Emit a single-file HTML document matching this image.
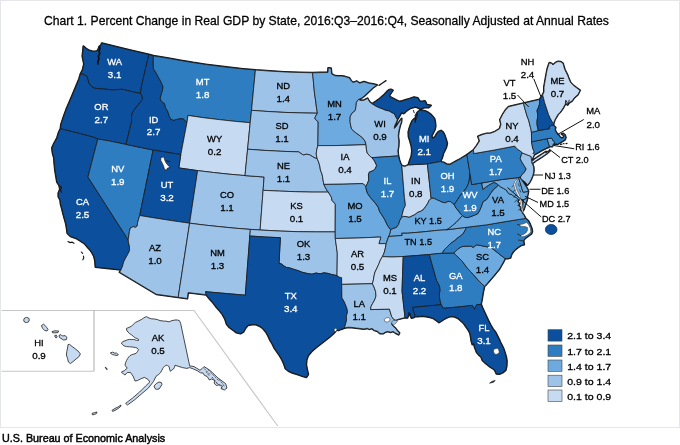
<!DOCTYPE html>
<html lang="en"><head><meta charset="utf-8"><title>Chart 1. Percent Change in Real GDP by State</title>
<style>html,body{margin:0;padding:0;background:#fff}body{width:680px;height:445px;overflow:hidden;position:relative;font-family:"Liberation Sans",sans-serif}#frame{position:absolute;left:0;top:0;width:680px;height:428px;border:1.7px solid #e4e6e9;box-sizing:border-box}svg{position:absolute;left:0;top:0}svg text{font-family:"Liberation Sans",sans-serif;stroke-width:.3px;paint-order:stroke}.st{stroke:#1e1e1e;stroke-width:.8;stroke-linejoin:round}#title{position:absolute;left:44.2px;top:12.4px;font-size:13.2px;color:#000;white-space:nowrap;line-height:18px;transform-origin:0 0;transform:scaleX(.921);-webkit-text-stroke:.3px #000}#src{position:absolute;left:1.8px;top:429.6px;font-size:11px;color:#000;white-space:nowrap;line-height:16px;transform-origin:0 0;transform:scaleX(.978);-webkit-text-stroke:.45px #000}</style></head><body>
<div id="frame"></div>
<div id="title">Chart 1. Percent Change in Real GDP by State, 2016:Q3–2016:Q4, Seasonally Adjusted at Annual Rates</div>
<svg width="680" height="445" viewBox="0 0 680 445">
<path d="M1.5,310.45 H194 L277.7,426 M1.5,371.2 H94" fill="none" stroke="#c6c6c6" stroke-width="1.1"/><path d="M94,310.45 V371.2" fill="none" stroke="#b4b4b4" stroke-width="1.1"/>
<path d="M101.8,43.2 117.0,47.0 132.5,50.7 148.8,54.5 141.2,87.5 140.6,93.4 130.0,91.2 122.0,89.2 118.0,89.6 112.0,90.0 106.0,89.2 100.0,88.8 94.5,88.2 91.5,86.5 89.0,83.5 88.0,80.0 87.0,76.5 84.0,74.5 80.5,74.0 82.6,70.0 84.0,64.0 83.2,60.0 82.4,56.0 83.0,51.0 83.4,46.3 86.0,48.6 88.5,50.2 92.0,51.3 95.0,51.6 97.6,50.6 98.6,48.4 99.6,46.2 100.8,45.6Z M80.5,74.0 84.0,74.5 87.0,76.5 88.0,80.0 89.0,83.5 91.5,86.5 94.5,88.2 100.0,88.8 106.0,89.2 112.0,90.0 118.0,89.6 122.0,89.2 130.0,91.2 140.6,93.4 142.2,96.5 142.4,99.5 140.0,102.5 137.0,106.2 134.0,110.0 132.2,113.0 131.6,117.0 131.6,121.3 126.0,144.4 109.6,141.0 97.8,139.0 93.2,137.1 77.0,132.8 60.5,128.7 61.0,124.5 62.5,120.0 64.0,115.5 66.0,110.0 69.0,103.0 72.0,96.0 74.5,90.0 77.0,84.0 79.0,79.0Z M60.5,128.7 77.0,132.8 93.2,137.1 97.8,139.0 87.9,177.0 128.2,239.8 128.6,243.0 129.4,246.0 129.6,250.5 127.6,254.5 125.4,258.4 123.6,262.0 122.6,266.0 121.0,269.8 95.5,267.0 95.0,260.5 94.0,256.4 92.2,253.0 90.2,250.0 87.5,247.0 85.0,244.0 80.5,241.0 76.0,238.2 70.5,236.4 67.4,233.4 66.8,229.0 66.0,224.0 64.6,219.0 63.2,214.0 62.0,209.0 60.6,204.0 60.2,200.0 58.4,196.5 58.4,193.0 60.0,189.0 59.2,185.5 57.0,182.0 56.0,176.0 55.0,170.0 54.4,164.0 54.0,158.0 52.6,153.0 52.0,148.0 54.0,143.5 57.0,138.0 58.5,133.0Z M97.8,139.0 109.6,141.0 126.0,144.4 153.1,150.0 139.7,215.5 137.6,222.5 137.2,226.0 135.4,227.4 133.2,226.6 130.4,228.0 129.4,231.5 128.8,236.0 128.2,239.8 87.9,177.0Z M148.8,54.5 153.3,55.8 153.2,62.0 153.4,68.6 155.5,72.0 158.0,76.5 160.5,81.0 163.0,86.5 162.6,90.0 161.4,94.0 160.2,98.5 161.5,101.5 164.5,103.5 165.5,107.5 167.8,111.5 169.0,115.5 170.8,119.2 173.5,120.2 176.5,119.4 180.0,118.6 183.5,118.8 185.0,121.0 187.0,122.2 180.8,154.6 153.1,150.0 126.0,144.4 131.6,121.3 131.6,117.0 132.2,113.0 134.0,110.0 137.0,106.2 140.0,102.5 142.4,99.5 142.2,96.5 140.6,93.4 141.2,87.5Z M153.3,55.8 168.4,58.3 180.7,60.5 193.1,62.6 205.5,64.4 217.9,66.1 230.4,67.6 242.9,68.9 255.4,70.0 251.5,110.3 250.2,122.7 234.6,121.3 219.1,119.6 203.5,117.7 188.0,115.4 187.0,122.2 185.0,121.0 183.5,118.8 180.0,118.6 176.5,119.4 173.5,120.2 170.8,119.2 169.0,115.5 167.8,111.5 165.5,107.5 164.5,103.5 161.5,101.5 160.2,98.5 161.4,94.0 162.6,90.0 163.0,86.5 160.5,81.0 158.0,76.5 155.5,72.0 153.4,68.6 153.2,62.0Z M188.0,115.4 203.5,117.7 219.1,119.6 234.6,121.3 250.2,122.7 247.6,149.2 245.0,175.6 229.2,174.2 213.4,172.5 197.6,170.6 178.8,167.9 180.8,154.6 187.0,122.2Z M153.1,150.0 180.8,154.6 178.8,167.9 197.6,170.6 189.6,223.2 172.9,220.8 156.2,218.2 139.7,215.5Z M139.7,215.5 156.2,218.2 172.9,220.8 189.6,223.2 178.2,297.3 156.3,294.2 119.6,272.2 121.0,269.8 122.6,266.0 123.6,262.0 125.4,258.4 127.6,254.5 129.6,250.5 129.4,246.0 128.6,243.0 128.2,239.8 128.8,236.0 129.4,231.5 130.4,228.0 133.2,226.6 135.4,227.4 137.2,226.0 137.6,222.5Z M197.6,170.6 213.4,172.5 229.2,174.2 245.0,175.6 264.1,177.0 263.1,190.3 260.1,230.0 250.4,229.4 235.2,228.2 219.9,226.7 204.7,225.1 189.6,223.2Z M189.6,223.2 204.7,225.1 219.9,226.7 235.2,228.2 250.4,229.4 249.8,236.0 245.3,295.2 205.6,291.7 206.2,294.7 188.1,292.6 187.3,298.5 178.2,297.3Z M255.4,70.0 269.6,71.1 283.9,71.9 298.2,72.4 312.5,72.8 313.2,79.0 313.9,87.0 314.6,94.0 315.7,101.0 316.4,107.0 317.4,113.2 300.9,112.9 284.5,112.4 268.0,111.5 251.5,110.3Z M251.5,110.3 268.0,111.5 284.5,112.4 300.9,112.9 317.4,113.2 315.8,115.8 314.8,118.2 316.4,120.4 318.2,121.8 317.9,145.6 316.8,149.5 316.2,154.0 317.2,158.8 315.0,158.0 312.5,156.6 309.5,154.8 306.5,154.2 303.5,155.0 301.0,153.6 298.9,151.9 281.8,151.3 264.7,150.4 247.6,149.2 250.2,122.7Z M247.6,149.2 264.7,150.4 281.8,151.3 298.9,151.9 301.0,153.6 303.5,155.0 306.5,154.2 309.5,154.8 312.5,156.6 315.0,158.0 317.2,158.8 318.6,162.0 319.8,166.0 320.4,170.0 322.0,174.0 322.6,177.0 323.2,181.0 323.9,184.4 325.4,187.6 326.8,190.2 328.3,192.1 312.0,192.1 295.7,191.7 279.4,191.1 263.1,190.3 264.1,177.0 245.0,175.6Z M263.1,190.3 279.4,191.1 295.7,191.7 312.0,192.1 328.3,192.1 329.8,194.6 331.4,197.2 332.0,200.4 333.8,202.4 335.3,204.2 335.2,231.9 316.4,231.9 297.6,231.7 278.9,231.0 260.1,230.0Z M250.4,229.4 260.1,230.0 278.9,231.0 297.6,231.7 316.4,231.9 335.2,231.9 335.3,238.5 337.3,253.1 337.0,275.6 332.0,274.6 328.0,273.4 324.0,272.8 320.0,273.8 316.0,273.0 312.0,274.2 307.0,273.4 302.0,272.2 298.0,270.6 294.0,269.4 290.0,268.0 286.4,267.4 284.0,266.0 281.6,264.0 279.0,263.4 280.4,237.7 265.1,237.0 249.8,236.0Z M249.8,236.0 265.1,237.0 280.4,237.7 279.0,263.4 281.6,264.0 284.0,266.0 286.4,267.4 290.0,268.0 294.0,269.4 298.0,270.6 302.0,272.2 307.0,273.4 312.0,274.2 316.0,273.0 320.0,273.8 324.0,272.8 328.0,273.4 332.0,274.6 337.0,275.6 339.5,277.2 341.6,277.6 341.7,284.4 341.9,297.8 344.4,302.0 346.8,308.0 347.6,312.0 346.4,316.0 346.6,320.0 345.6,324.0 344.4,328.0 341.0,329.2 338.5,330.4 336.4,329.8 335.4,331.6 333.0,334.0 329.0,337.5 324.5,341.0 320.0,344.5 315.5,348.0 311.5,351.5 308.2,355.5 306.6,360.0 306.2,365.0 307.2,370.0 308.2,374.5 306.4,377.2 303.0,376.4 298.0,374.6 293.0,373.0 288.5,371.0 285.4,368.5 284.0,364.0 282.2,360.0 280.0,356.2 277.4,352.5 274.6,348.5 272.4,344.0 270.0,340.0 268.2,336.0 266.0,332.0 263.0,328.5 259.5,326.0 256.0,324.6 252.0,324.4 248.0,325.2 245.6,328.0 243.5,331.8 240.4,333.6 236.5,332.6 233.0,330.0 229.5,327.5 226.6,324.0 225.0,319.0 222.5,314.5 219.0,310.0 215.5,306.0 212.0,301.5 208.5,297.5 206.2,294.7 205.6,291.7 245.3,295.2Z M312.5,72.8 320.0,72.6 328.0,72.4 328.2,68.0 331.0,68.2 331.6,74.0 335.0,75.8 338.0,76.0 341.5,76.0 345.0,76.6 349.4,78.0 351.0,80.6 353.0,82.6 356.8,81.2 359.7,83.2 364.0,81.8 368.5,83.2 373.0,84.0 377.0,84.9 373.0,87.8 368.5,92.0 364.0,96.3 361.0,98.4 358.6,99.4 356.4,102.4 356.0,106.5 355.2,110.6 352.0,113.2 350.2,116.5 350.0,121.5 350.8,126.0 351.6,129.0 355.0,132.2 359.0,135.0 362.5,137.8 365.0,141.0 366.0,144.7 350.0,145.2 334.0,145.6 317.9,145.6 318.2,121.8 316.4,120.4 314.8,118.2 315.8,115.8 317.4,113.2 316.4,107.0 315.7,101.0 314.6,94.0 313.9,87.0 313.2,79.0Z M317.9,145.6 334.0,145.6 350.0,145.2 366.0,144.7 366.4,149.0 367.2,153.0 369.6,155.8 371.9,157.7 374.6,161.0 376.6,165.5 375.4,168.5 373.0,170.8 369.4,172.0 368.4,175.0 368.8,180.0 367.4,183.5 365.8,186.4 364.4,185.0 362.7,183.6 343.3,184.2 323.9,184.4 323.2,181.0 322.6,177.0 322.0,174.0 320.4,170.0 319.8,166.0 318.6,162.0 317.2,158.8 316.2,154.0 316.8,149.5Z M323.9,184.4 343.3,184.2 362.7,183.6 364.4,185.0 365.8,186.4 366.4,190.0 367.6,193.5 370.4,197.5 373.0,200.5 376.0,204.0 378.4,207.6 379.6,211.5 382.5,216.0 385.0,220.0 387.0,224.5 388.6,227.0 390.6,229.7 390.2,233.0 388.6,236.6 387.4,240.0 386.2,243.6 378.9,243.7 380.8,237.0 358.1,238.0 335.3,238.5 335.2,231.9 335.3,204.2 333.8,202.4 332.0,200.4 331.4,197.2 329.8,194.6 328.3,192.1 326.8,190.2 325.4,187.6Z M335.3,238.5 358.1,238.0 380.8,237.0 378.9,243.7 386.2,243.6 385.4,248.0 384.4,252.0 383.4,254.6 382.4,256.6 380.4,260.0 379.0,263.6 377.0,268.0 375.0,272.0 374.0,276.0 373.4,280.0 372.4,283.7 341.7,284.4 341.6,277.6 339.5,277.2 337.0,275.6 337.3,253.1Z M341.7,284.4 372.4,283.7 374.0,287.0 375.6,291.5 376.0,296.0 374.6,300.0 372.6,303.5 371.0,306.5 370.6,309.6 389.4,309.1 390.6,313.0 391.6,316.5 393.6,319.2 395.6,320.2 393.0,322.2 391.4,324.0 393.0,326.2 395.2,328.0 397.0,330.4 399.4,333.0 398.6,334.6 395.5,333.0 393.0,331.4 390.5,332.2 388.0,331.4 385.5,332.0 383.0,333.6 380.0,333.4 377.5,331.2 374.5,330.4 372.0,328.4 369.4,329.2 367.0,328.2 364.0,329.0 360.0,328.4 356.0,328.0 352.0,327.4 348.0,327.2 344.4,328.0 345.6,324.0 346.6,320.0 346.4,316.0 347.6,312.0 346.8,308.0 344.4,302.0 341.9,297.8Z M358.6,99.4 360.5,100.4 363.5,100.4 366.0,99.2 367.6,98.4 368.6,100.2 370.0,102.4 372.2,103.8 375.5,105.8 378.8,107.4 382.5,108.8 386.2,110.4 389.0,110.8 392.0,112.6 394.6,113.8 395.4,116.0 397.4,119.6 396.2,122.6 394.6,126.0 394.2,128.4 396.2,126.6 398.6,122.8 401.6,118.6 401.4,122.0 400.0,126.0 398.8,131.0 398.2,136.0 398.8,141.0 398.6,146.0 397.8,151.0 398.4,155.9 371.9,157.7 369.6,155.8 367.2,153.0 366.4,149.0 366.0,144.7 365.0,141.0 362.5,137.8 359.0,135.0 355.0,132.2 351.6,129.0 350.8,126.0 350.0,121.5 350.2,116.5 352.0,113.2 355.2,110.6 356.0,106.5 356.4,102.4Z M371.9,157.7 398.4,155.9 399.4,160.0 400.8,164.0 401.8,165.5 404.4,197.4 405.0,201.5 405.4,205.5 403.6,209.0 402.6,213.0 401.4,217.6 399.6,221.0 398.6,224.5 396.4,227.4 393.6,228.4 390.6,229.7 388.6,227.0 387.0,224.5 385.0,220.0 382.5,216.0 379.6,211.5 378.4,207.6 376.0,204.0 373.0,200.5 370.4,197.5 367.6,193.5 366.4,190.0 365.8,186.4 367.4,183.5 368.8,180.0 368.4,175.0 369.4,172.0 373.0,170.8 375.4,168.5 376.6,165.5 374.6,161.0Z M401.8,165.5 404.5,166.6 408.4,164.9 427.4,163.9 431.1,198.4 429.0,200.6 427.6,203.6 425.6,206.6 423.0,210.0 420.4,211.4 417.6,212.4 415.0,214.6 412.0,216.0 409.0,217.4 406.0,216.6 403.5,216.4 401.4,217.6 402.6,213.0 403.6,209.0 405.4,205.5 405.0,201.5 404.4,197.4Z M372.2,103.8 375.6,101.6 378.8,99.4 381.8,96.8 384.7,94.2 387.0,91.6 389.2,89.8 391.4,89.6 392.8,90.4 391.0,93.0 389.2,95.8 391.0,97.4 393.5,98.6 396.4,100.2 399.4,101.6 402.4,101.0 405.3,100.0 409.7,98.6 414.0,97.2 417.8,98.0 419.0,100.0 420.0,101.6 422.6,101.4 425.0,101.0 426.0,103.0 426.8,104.8 431.0,105.4 429.0,107.4 424.4,107.6 422.0,108.4 420.0,109.0 417.6,107.6 415.6,106.8 413.0,107.6 411.0,108.0 408.6,109.4 406.8,110.6 405.0,112.4 403.6,113.4 401.6,112.6 400.4,114.4 399.4,116.2 397.4,119.6 395.4,116.0 394.6,113.8 392.0,112.6 389.0,110.8 386.2,110.4 382.5,108.8 378.8,107.4 375.5,105.8Z M408.4,164.9 409.6,161.0 411.4,156.0 412.0,151.0 411.4,146.0 410.0,141.0 408.6,136.6 408.4,132.0 409.4,128.0 410.8,124.0 412.4,120.6 414.6,118.4 415.4,121.6 416.4,118.0 416.2,114.6 417.8,112.0 420.2,110.2 422.6,110.6 425.0,111.0 428.0,112.4 430.6,114.2 432.6,116.4 434.4,118.6 435.2,122.0 435.6,126.0 435.0,129.4 433.4,132.6 431.6,136.0 432.4,138.4 434.8,137.2 436.6,134.0 438.6,131.6 441.0,130.6 443.0,132.0 444.6,135.0 446.0,139.0 447.2,143.4 446.4,147.0 445.0,150.0 443.4,153.2 442.4,157.0 440.4,161.6 427.4,163.9Z M427.4,163.9 440.4,161.6 443.5,162.4 446.5,164.2 450.0,164.6 453.5,162.6 457.0,160.6 460.5,158.8 464.0,156.6 466.9,154.9 469.8,172.5 469.6,175.6 469.4,179.0 468.8,182.6 467.4,186.0 465.6,189.0 463.4,191.6 461.4,194.0 459.4,196.6 457.6,199.6 456.0,202.0 454.2,204.6 452.6,203.4 450.4,201.6 448.0,201.4 445.6,202.8 442.6,202.4 439.6,201.0 436.5,199.6 433.6,198.2 431.1,198.4Z M401.4,217.6 399.6,221.0 398.6,224.5 396.4,227.4 393.6,228.4 390.6,229.7 390.2,233.0 388.6,236.6 388.5,236.5 402.2,235.5 401.8,233.2 407.7,233.2 422.9,231.9 438.1,230.3 446.5,229.8 449.6,228.0 452.6,225.4 456.0,222.6 459.0,219.5 462.4,215.6 460.4,213.6 458.6,211.0 456.0,208.0 454.2,204.6 452.6,203.4 450.4,201.6 448.0,201.4 445.6,202.8 442.6,202.4 439.6,201.0 436.5,199.6 433.6,198.2 431.1,198.4 429.0,200.6 427.6,203.6 425.6,206.6 423.0,210.0 420.4,211.4 417.6,212.4 415.0,214.6 412.0,216.0 409.0,217.4 406.0,216.6 403.5,216.4Z M388.6,236.6 388.5,236.5 402.2,235.5 401.8,233.2 407.7,233.2 422.9,231.9 438.1,230.3 446.5,229.8 466.6,227.3 465.0,230.4 463.3,233.6 460.5,236.0 457.6,238.0 455.0,240.4 452.4,242.2 450.0,244.0 447.6,246.4 445.2,248.8 443.4,251.0 442.6,253.2 429.3,254.5 416.0,255.6 403.2,256.5 392.0,257.0 382.4,256.6 383.4,254.6 384.4,252.0 385.4,248.0 386.2,243.6 387.4,240.0Z M382.4,256.6 392.0,257.0 403.2,256.5 402.0,291.1 405.0,317.6 401.0,318.6 398.0,319.4 395.6,320.2 393.6,319.2 391.6,316.5 390.6,313.0 389.4,309.1 370.6,309.6 371.0,306.5 372.6,303.5 374.6,300.0 376.0,296.0 375.6,291.5 374.0,287.0 372.4,283.7 373.4,280.0 374.0,276.0 375.0,272.0 377.0,268.0 379.0,263.6 380.4,260.0Z M403.2,256.5 416.0,255.6 429.3,254.5 436.6,280.5 438.4,283.5 439.5,286.0 440.2,290.0 439.4,294.0 439.6,298.0 440.4,301.6 441.2,304.7 412.8,307.4 413.4,311.0 414.6,313.6 415.2,316.4 413.4,317.6 411.6,318.0 410.6,316.0 410.0,313.0 408.6,312.6 408.4,315.4 407.4,317.8 405.0,317.6 402.0,291.1Z M429.3,254.5 442.6,253.2 453.8,253.0 456.4,255.6 459.6,258.6 462.4,261.4 465.0,265.0 467.6,268.4 470.4,271.4 473.4,274.6 476.4,278.0 479.0,281.0 481.6,283.6 484.4,286.2 483.6,290.0 482.8,294.0 482.2,298.0 481.6,301.4 481.0,304.2 479.0,304.6 477.0,304.4 475.6,306.4 474.6,309.2 473.4,307.4 472.4,305.4 458.0,307.0 443.2,308.3 441.2,304.7 440.4,301.6 439.6,298.0 439.4,294.0 440.2,290.0 439.5,286.0 438.4,283.5 436.6,280.5Z M412.8,307.4 441.2,304.7 443.2,308.3 458.0,307.0 472.4,305.4 473.4,307.4 474.6,309.2 475.6,306.4 477.0,304.4 479.0,304.6 481.0,304.2 482.4,307.6 484.2,311.6 486.2,316.0 488.4,320.6 490.6,325.0 493.0,329.0 495.6,332.4 497.4,336.0 499.4,340.0 500.3,342.2 502.0,345.4 503.7,349.0 505.0,353.0 506.2,357.0 506.8,361.0 506.6,366.0 505.7,370.1 502.6,372.6 499.4,374.0 496.4,373.7 495.6,371.6 494.2,369.4 490.2,367.0 486.9,364.2 484.6,362.4 482.4,360.2 481.2,357.0 479.0,355.0 476.7,352.4 474.6,347.0 474.0,343.4 472.4,344.4 471.4,341.0 470.8,337.0 470.0,333.0 468.0,329.4 465.8,326.4 463.4,323.0 460.6,320.4 457.6,318.0 454.0,316.6 450.6,316.4 447.0,317.6 443.6,319.4 441.4,321.0 439.0,322.4 436.4,320.4 433.4,318.4 430.0,317.2 426.0,316.4 422.0,316.0 418.0,316.4 415.2,316.4 414.6,313.6 413.4,311.0Z M453.8,253.0 456.4,250.4 459.0,248.2 461.0,247.0 463.0,246.4 467.0,246.2 471.0,246.0 473.0,247.4 475.4,246.0 476.4,244.8 480.0,245.4 485.0,246.4 491.0,247.6 496.0,251.4 501.0,255.4 505.2,258.6 503.4,262.0 501.4,265.6 499.4,269.0 496.4,272.6 493.6,276.0 491.0,279.0 488.4,282.0 486.4,284.4 484.4,286.2 481.6,283.6 479.0,281.0 476.4,278.0 473.4,274.6 470.4,271.4 467.6,268.4 465.0,265.0 462.4,261.4 459.6,258.6 456.4,255.6Z M466.6,227.3 486.2,224.9 505.7,221.6 525.6,218.4 528.4,221.0 530.0,224.0 531.6,228.0 532.3,231.4 531.5,233.7 528.4,236.0 525.0,238.4 523.4,240.6 524.2,244.6 521.0,245.4 518.0,247.4 515.2,249.6 513.4,251.6 511.9,253.6 511.0,256.0 510.4,257.9 507.8,258.5 505.2,258.6 501.0,255.4 496.0,251.4 491.0,247.6 485.0,246.4 480.0,245.4 476.4,244.8 475.4,246.0 473.0,247.4 471.0,246.0 467.0,246.2 463.0,246.4 461.0,247.0 459.0,248.2 456.4,250.4 453.8,253.0 442.6,253.2 443.4,251.0 445.2,248.8 447.6,246.4 450.0,244.0 452.4,242.2 455.0,240.4 457.6,238.0 460.5,236.0 463.3,233.6 465.0,230.4Z M498.4,185.0 500.7,187.0 503.5,188.4 506.5,190.2 507.6,192.4 509.6,194.0 512.0,194.6 513.8,196.4 516.4,197.6 518.6,199.6 517.6,202.0 519.4,203.6 518.6,206.0 520.6,207.6 520.0,210.0 522.0,211.4 522.6,213.6 524.2,215.6 525.6,218.4 505.7,221.6 486.2,224.9 466.6,227.3 446.5,229.8 449.6,228.0 452.6,225.4 456.0,222.6 459.0,219.5 462.4,215.6 465.4,217.4 468.0,217.6 470.6,216.6 474.5,215.2 478.0,213.5 479.6,210.5 480.9,207.6 482.0,204.6 483.0,201.8 485.0,200.4 486.8,199.4 488.6,196.6 490.4,193.7 492.2,191.2 494.0,189.0 496.2,187.2Z M523.6,199.6 527.6,198.0 526.4,202.0 525.0,206.0 523.8,209.6 522.8,210.8 522.8,206.0 523.2,202.6Z M454.2,204.6 456.0,202.0 457.6,199.6 459.4,196.6 461.4,194.0 463.4,191.6 465.6,189.0 467.4,186.0 468.8,182.6 469.4,179.0 469.6,175.6 469.8,172.5 471.7,184.6 481.7,183.0 482.9,189.4 486.0,187.0 488.6,185.2 491.4,183.6 494.0,182.4 496.0,183.2 498.4,185.0 496.2,187.2 494.0,189.0 492.2,191.2 490.4,193.7 488.6,196.6 486.8,199.4 485.0,200.4 483.0,201.8 482.0,204.6 480.9,207.6 479.6,210.5 478.0,213.5 474.5,215.2 470.6,216.6 468.0,217.6 465.4,217.4 462.4,215.6 460.4,213.6 458.6,211.0 456.0,208.0Z M481.7,183.0 486.9,182.1 502.0,179.5 518.6,177.6 523.0,192.2 528.4,191.4 527.8,194.6 526.8,198.2 523.6,199.6 518.6,199.6 516.4,197.6 513.8,196.4 512.0,194.6 509.6,194.0 507.6,192.4 506.5,190.2 503.5,188.4 500.7,187.0 498.4,185.0 496.0,183.2 494.0,182.4 491.4,183.6 488.6,185.2 486.0,187.0 482.9,189.4Z M518.6,177.6 520.2,177.6 521.0,179.2 522.7,181.5 524.6,184.4 526.2,186.8 527.6,189.2 528.4,191.4 523.0,192.2Z M466.9,154.9 473.4,150.0 473.9,153.6 494.4,150.0 514.7,146.1 516.6,148.4 518.6,150.0 520.4,151.0 522.4,153.0 521.2,155.4 520.2,158.6 521.6,161.6 524.0,165.4 526.2,169.0 524.6,172.0 521.8,175.0 520.4,177.2 518.6,177.6 502.0,179.5 486.9,182.1 471.7,184.6 469.8,172.5Z M522.4,153.0 531.1,156.4 531.6,160.2 532.2,163.0 533.6,167.0 533.8,171.0 533.0,175.0 531.4,179.0 529.6,182.4 527.4,185.0 525.6,182.4 523.2,180.6 521.2,179.0 520.4,177.2 518.6,177.6 520.4,177.2 521.8,175.0 524.6,172.0 526.2,169.0 524.0,165.4 521.6,161.6 520.2,158.6 521.2,155.4Z M473.4,150.0 476.4,146.0 479.6,141.0 478.0,136.4 482.0,134.8 486.0,133.6 490.8,133.2 495.0,131.6 499.6,128.8 501.0,124.4 500.0,119.8 502.6,114.6 505.6,110.0 508.6,106.8 511.8,106.0 523.6,103.2 524.4,107.0 525.7,111.5 527.0,116.0 528.7,120.3 529.8,125.0 531.0,129.6 531.4,132.3 531.6,141.8 532.6,148.0 534.4,152.0 533.2,153.4 534.4,154.6 533.0,157.4 531.6,160.2 531.1,156.4 522.4,153.0 520.4,151.0 518.6,150.0 516.6,148.4 514.7,146.1 494.4,150.0 473.9,153.6Z M531.8,161.6 535.0,158.8 539.0,156.2 543.0,153.6 546.0,151.6 545.6,153.0 548.0,151.6 550.0,150.8 546.6,153.8 542.0,157.0 537.4,159.8 533.4,162.6 531.8,163.2Z M531.6,141.8 547.2,138.7 548.4,143.0 549.6,146.6 545.4,148.6 541.4,150.6 537.6,152.8 534.4,154.6 533.2,153.4 534.4,152.0 532.6,148.0Z M547.2,138.7 551.6,138.0 553.0,140.4 554.6,142.2 554.6,144.4 553.6,143.6 552.8,145.2 552.4,146.4 549.6,146.6 548.4,143.0Z M531.4,132.3 538.3,130.6 549.4,128.7 549.4,126.4 551.4,125.4 553.4,125.4 555.6,127.4 555.0,130.0 556.4,132.6 557.6,134.4 559.0,135.4 560.2,137.4 562.0,138.2 563.6,137.4 564.0,135.8 563.0,134.8 561.6,134.0 563.2,133.5 565.0,135.0 565.8,137.6 564.8,139.8 562.6,141.2 560.0,142.8 557.6,144.2 556.0,143.8 554.6,144.4 554.6,142.2 553.0,140.4 551.6,138.0 547.2,138.7 531.6,141.8Z M523.6,103.2 539.7,99.4 539.6,104.0 538.4,107.6 537.0,110.4 537.6,114.0 537.6,117.4 537.0,121.0 537.0,124.4 537.6,127.6 538.3,130.6 531.4,132.3 531.0,129.6 529.8,125.0 528.7,120.3 527.0,116.0 525.7,111.5 524.4,107.0Z M539.7,99.4 541.0,97.2 542.6,95.0 543.6,98.6 544.6,102.6 546.4,108.0 548.5,114.4 550.4,118.6 552.0,121.4 553.6,123.4 553.4,125.4 551.4,125.4 549.4,126.4 549.4,128.7 538.3,130.6 537.6,127.6 537.0,124.4 537.0,121.0 537.6,117.4 537.6,114.0 537.0,110.4 538.4,107.6 539.6,104.0Z M542.6,95.0 544.0,92.0 544.0,87.0 544.8,82.6 545.6,78.0 546.4,73.6 547.2,69.4 548.2,66.0 549.4,62.8 551.5,63.5 553.0,65.0 554.8,63.4 556.6,62.0 558.4,61.6 560.3,61.8 561.8,62.4 563.0,63.5 563.8,66.4 564.7,69.4 566.2,72.4 567.6,75.3 569.0,79.0 570.6,82.6 573.5,85.6 576.5,87.8 580.0,90.4 578.0,94.4 576.0,96.2 574.0,98.0 572.4,100.6 570.6,101.8 569.0,103.0 567.6,105.0 566.4,103.4 564.7,105.0 563.4,107.6 561.8,110.0 560.0,112.4 558.0,114.4 556.2,117.4 554.6,120.4 553.6,123.4 552.0,121.4 550.4,118.6 548.5,114.4 546.4,108.0 544.6,102.6 543.6,98.6Z" fill="#222" stroke="#161616" stroke-width="2" stroke-linejoin="round"/>
<path class="st" fill="#0C4F9C" d="M101.8,43.2 117.0,47.0 132.5,50.7 148.8,54.5 141.2,87.5 140.6,93.4 130.0,91.2 122.0,89.2 118.0,89.6 112.0,90.0 106.0,89.2 100.0,88.8 94.5,88.2 91.5,86.5 89.0,83.5 88.0,80.0 87.0,76.5 84.0,74.5 80.5,74.0 82.6,70.0 84.0,64.0 83.2,60.0 82.4,56.0 83.0,51.0 83.4,46.3 86.0,48.6 88.5,50.2 92.0,51.3 95.0,51.6 97.6,50.6 98.6,48.4 99.6,46.2 100.8,45.6Z"/>
<path class="st" fill="#0C4F9C" d="M80.5,74.0 84.0,74.5 87.0,76.5 88.0,80.0 89.0,83.5 91.5,86.5 94.5,88.2 100.0,88.8 106.0,89.2 112.0,90.0 118.0,89.6 122.0,89.2 130.0,91.2 140.6,93.4 142.2,96.5 142.4,99.5 140.0,102.5 137.0,106.2 134.0,110.0 132.2,113.0 131.6,117.0 131.6,121.3 126.0,144.4 109.6,141.0 97.8,139.0 93.2,137.1 77.0,132.8 60.5,128.7 61.0,124.5 62.5,120.0 64.0,115.5 66.0,110.0 69.0,103.0 72.0,96.0 74.5,90.0 77.0,84.0 79.0,79.0Z"/>
<path class="st" fill="#0C4F9C" d="M60.5,128.7 77.0,132.8 93.2,137.1 97.8,139.0 87.9,177.0 128.2,239.8 128.6,243.0 129.4,246.0 129.6,250.5 127.6,254.5 125.4,258.4 123.6,262.0 122.6,266.0 121.0,269.8 95.5,267.0 95.0,260.5 94.0,256.4 92.2,253.0 90.2,250.0 87.5,247.0 85.0,244.0 80.5,241.0 76.0,238.2 70.5,236.4 67.4,233.4 66.8,229.0 66.0,224.0 64.6,219.0 63.2,214.0 62.0,209.0 60.6,204.0 60.2,200.0 58.4,196.5 58.4,193.0 60.0,189.0 59.2,185.5 57.0,182.0 56.0,176.0 55.0,170.0 54.4,164.0 54.0,158.0 52.6,153.0 52.0,148.0 54.0,143.5 57.0,138.0 58.5,133.0Z"/>
<path class="st" fill="#2F7DC1" d="M97.8,139.0 109.6,141.0 126.0,144.4 153.1,150.0 139.7,215.5 137.6,222.5 137.2,226.0 135.4,227.4 133.2,226.6 130.4,228.0 129.4,231.5 128.8,236.0 128.2,239.8 87.9,177.0Z"/>
<path class="st" fill="#0C4F9C" d="M148.8,54.5 153.3,55.8 153.2,62.0 153.4,68.6 155.5,72.0 158.0,76.5 160.5,81.0 163.0,86.5 162.6,90.0 161.4,94.0 160.2,98.5 161.5,101.5 164.5,103.5 165.5,107.5 167.8,111.5 169.0,115.5 170.8,119.2 173.5,120.2 176.5,119.4 180.0,118.6 183.5,118.8 185.0,121.0 187.0,122.2 180.8,154.6 153.1,150.0 126.0,144.4 131.6,121.3 131.6,117.0 132.2,113.0 134.0,110.0 137.0,106.2 140.0,102.5 142.4,99.5 142.2,96.5 140.6,93.4 141.2,87.5Z"/>
<path class="st" fill="#2F7DC1" d="M153.3,55.8 168.4,58.3 180.7,60.5 193.1,62.6 205.5,64.4 217.9,66.1 230.4,67.6 242.9,68.9 255.4,70.0 251.5,110.3 250.2,122.7 234.6,121.3 219.1,119.6 203.5,117.7 188.0,115.4 187.0,122.2 185.0,121.0 183.5,118.8 180.0,118.6 176.5,119.4 173.5,120.2 170.8,119.2 169.0,115.5 167.8,111.5 165.5,107.5 164.5,103.5 161.5,101.5 160.2,98.5 161.4,94.0 162.6,90.0 163.0,86.5 160.5,81.0 158.0,76.5 155.5,72.0 153.4,68.6 153.2,62.0Z"/>
<path class="st" fill="#C6DAF1" d="M188.0,115.4 203.5,117.7 219.1,119.6 234.6,121.3 250.2,122.7 247.6,149.2 245.0,175.6 229.2,174.2 213.4,172.5 197.6,170.6 178.8,167.9 180.8,154.6 187.0,122.2Z"/>
<path class="st" fill="#0C4F9C" d="M153.1,150.0 180.8,154.6 178.8,167.9 197.6,170.6 189.6,223.2 172.9,220.8 156.2,218.2 139.7,215.5Z"/>
<path class="st" fill="#9DC3E9" d="M139.7,215.5 156.2,218.2 172.9,220.8 189.6,223.2 178.2,297.3 156.3,294.2 119.6,272.2 121.0,269.8 122.6,266.0 123.6,262.0 125.4,258.4 127.6,254.5 129.6,250.5 129.4,246.0 128.6,243.0 128.2,239.8 128.8,236.0 129.4,231.5 130.4,228.0 133.2,226.6 135.4,227.4 137.2,226.0 137.6,222.5Z"/>
<path class="st" fill="#9DC3E9" d="M197.6,170.6 213.4,172.5 229.2,174.2 245.0,175.6 264.1,177.0 263.1,190.3 260.1,230.0 250.4,229.4 235.2,228.2 219.9,226.7 204.7,225.1 189.6,223.2Z"/>
<path class="st" fill="#9DC3E9" d="M189.6,223.2 204.7,225.1 219.9,226.7 235.2,228.2 250.4,229.4 249.8,236.0 245.3,295.2 205.6,291.7 206.2,294.7 188.1,292.6 187.3,298.5 178.2,297.3Z"/>
<path class="st" fill="#9DC3E9" d="M255.4,70.0 269.6,71.1 283.9,71.9 298.2,72.4 312.5,72.8 313.2,79.0 313.9,87.0 314.6,94.0 315.7,101.0 316.4,107.0 317.4,113.2 300.9,112.9 284.5,112.4 268.0,111.5 251.5,110.3Z"/>
<path class="st" fill="#9DC3E9" d="M251.5,110.3 268.0,111.5 284.5,112.4 300.9,112.9 317.4,113.2 315.8,115.8 314.8,118.2 316.4,120.4 318.2,121.8 317.9,145.6 316.8,149.5 316.2,154.0 317.2,158.8 315.0,158.0 312.5,156.6 309.5,154.8 306.5,154.2 303.5,155.0 301.0,153.6 298.9,151.9 281.8,151.3 264.7,150.4 247.6,149.2 250.2,122.7Z"/>
<path class="st" fill="#9DC3E9" d="M247.6,149.2 264.7,150.4 281.8,151.3 298.9,151.9 301.0,153.6 303.5,155.0 306.5,154.2 309.5,154.8 312.5,156.6 315.0,158.0 317.2,158.8 318.6,162.0 319.8,166.0 320.4,170.0 322.0,174.0 322.6,177.0 323.2,181.0 323.9,184.4 325.4,187.6 326.8,190.2 328.3,192.1 312.0,192.1 295.7,191.7 279.4,191.1 263.1,190.3 264.1,177.0 245.0,175.6Z"/>
<path class="st" fill="#C6DAF1" d="M263.1,190.3 279.4,191.1 295.7,191.7 312.0,192.1 328.3,192.1 329.8,194.6 331.4,197.2 332.0,200.4 333.8,202.4 335.3,204.2 335.2,231.9 316.4,231.9 297.6,231.7 278.9,231.0 260.1,230.0Z"/>
<path class="st" fill="#9DC3E9" d="M250.4,229.4 260.1,230.0 278.9,231.0 297.6,231.7 316.4,231.9 335.2,231.9 335.3,238.5 337.3,253.1 337.0,275.6 332.0,274.6 328.0,273.4 324.0,272.8 320.0,273.8 316.0,273.0 312.0,274.2 307.0,273.4 302.0,272.2 298.0,270.6 294.0,269.4 290.0,268.0 286.4,267.4 284.0,266.0 281.6,264.0 279.0,263.4 280.4,237.7 265.1,237.0 249.8,236.0Z"/>
<path class="st" fill="#0C4F9C" d="M249.8,236.0 265.1,237.0 280.4,237.7 279.0,263.4 281.6,264.0 284.0,266.0 286.4,267.4 290.0,268.0 294.0,269.4 298.0,270.6 302.0,272.2 307.0,273.4 312.0,274.2 316.0,273.0 320.0,273.8 324.0,272.8 328.0,273.4 332.0,274.6 337.0,275.6 339.5,277.2 341.6,277.6 341.7,284.4 341.9,297.8 344.4,302.0 346.8,308.0 347.6,312.0 346.4,316.0 346.6,320.0 345.6,324.0 344.4,328.0 341.0,329.2 338.5,330.4 336.4,329.8 335.4,331.6 333.0,334.0 329.0,337.5 324.5,341.0 320.0,344.5 315.5,348.0 311.5,351.5 308.2,355.5 306.6,360.0 306.2,365.0 307.2,370.0 308.2,374.5 306.4,377.2 303.0,376.4 298.0,374.6 293.0,373.0 288.5,371.0 285.4,368.5 284.0,364.0 282.2,360.0 280.0,356.2 277.4,352.5 274.6,348.5 272.4,344.0 270.0,340.0 268.2,336.0 266.0,332.0 263.0,328.5 259.5,326.0 256.0,324.6 252.0,324.4 248.0,325.2 245.6,328.0 243.5,331.8 240.4,333.6 236.5,332.6 233.0,330.0 229.5,327.5 226.6,324.0 225.0,319.0 222.5,314.5 219.0,310.0 215.5,306.0 212.0,301.5 208.5,297.5 206.2,294.7 205.6,291.7 245.3,295.2Z"/>
<path class="st" fill="#6DAADF" d="M312.5,72.8 320.0,72.6 328.0,72.4 328.2,68.0 331.0,68.2 331.6,74.0 335.0,75.8 338.0,76.0 341.5,76.0 345.0,76.6 349.4,78.0 351.0,80.6 353.0,82.6 356.8,81.2 359.7,83.2 364.0,81.8 368.5,83.2 373.0,84.0 377.0,84.9 373.0,87.8 368.5,92.0 364.0,96.3 361.0,98.4 358.6,99.4 356.4,102.4 356.0,106.5 355.2,110.6 352.0,113.2 350.2,116.5 350.0,121.5 350.8,126.0 351.6,129.0 355.0,132.2 359.0,135.0 362.5,137.8 365.0,141.0 366.0,144.7 350.0,145.2 334.0,145.6 317.9,145.6 318.2,121.8 316.4,120.4 314.8,118.2 315.8,115.8 317.4,113.2 316.4,107.0 315.7,101.0 314.6,94.0 313.9,87.0 313.2,79.0Z"/>
<path class="st" fill="#C6DAF1" d="M317.9,145.6 334.0,145.6 350.0,145.2 366.0,144.7 366.4,149.0 367.2,153.0 369.6,155.8 371.9,157.7 374.6,161.0 376.6,165.5 375.4,168.5 373.0,170.8 369.4,172.0 368.4,175.0 368.8,180.0 367.4,183.5 365.8,186.4 364.4,185.0 362.7,183.6 343.3,184.2 323.9,184.4 323.2,181.0 322.6,177.0 322.0,174.0 320.4,170.0 319.8,166.0 318.6,162.0 317.2,158.8 316.2,154.0 316.8,149.5Z"/>
<path class="st" fill="#6DAADF" d="M323.9,184.4 343.3,184.2 362.7,183.6 364.4,185.0 365.8,186.4 366.4,190.0 367.6,193.5 370.4,197.5 373.0,200.5 376.0,204.0 378.4,207.6 379.6,211.5 382.5,216.0 385.0,220.0 387.0,224.5 388.6,227.0 390.6,229.7 390.2,233.0 388.6,236.6 387.4,240.0 386.2,243.6 378.9,243.7 380.8,237.0 358.1,238.0 335.3,238.5 335.2,231.9 335.3,204.2 333.8,202.4 332.0,200.4 331.4,197.2 329.8,194.6 328.3,192.1 326.8,190.2 325.4,187.6Z"/>
<path class="st" fill="#C6DAF1" d="M335.3,238.5 358.1,238.0 380.8,237.0 378.9,243.7 386.2,243.6 385.4,248.0 384.4,252.0 383.4,254.6 382.4,256.6 380.4,260.0 379.0,263.6 377.0,268.0 375.0,272.0 374.0,276.0 373.4,280.0 372.4,283.7 341.7,284.4 341.6,277.6 339.5,277.2 337.0,275.6 337.3,253.1Z"/>
<path class="st" fill="#9DC3E9" d="M341.7,284.4 372.4,283.7 374.0,287.0 375.6,291.5 376.0,296.0 374.6,300.0 372.6,303.5 371.0,306.5 370.6,309.6 389.4,309.1 390.6,313.0 391.6,316.5 393.6,319.2 395.6,320.2 393.0,322.2 391.4,324.0 393.0,326.2 395.2,328.0 397.0,330.4 399.4,333.0 398.6,334.6 395.5,333.0 393.0,331.4 390.5,332.2 388.0,331.4 385.5,332.0 383.0,333.6 380.0,333.4 377.5,331.2 374.5,330.4 372.0,328.4 369.4,329.2 367.0,328.2 364.0,329.0 360.0,328.4 356.0,328.0 352.0,327.4 348.0,327.2 344.4,328.0 345.6,324.0 346.6,320.0 346.4,316.0 347.6,312.0 346.8,308.0 344.4,302.0 341.9,297.8Z"/>
<path class="st" fill="#9DC3E9" d="M358.6,99.4 360.5,100.4 363.5,100.4 366.0,99.2 367.6,98.4 368.6,100.2 370.0,102.4 372.2,103.8 375.5,105.8 378.8,107.4 382.5,108.8 386.2,110.4 389.0,110.8 392.0,112.6 394.6,113.8 395.4,116.0 397.4,119.6 396.2,122.6 394.6,126.0 394.2,128.4 396.2,126.6 398.6,122.8 401.6,118.6 401.4,122.0 400.0,126.0 398.8,131.0 398.2,136.0 398.8,141.0 398.6,146.0 397.8,151.0 398.4,155.9 371.9,157.7 369.6,155.8 367.2,153.0 366.4,149.0 366.0,144.7 365.0,141.0 362.5,137.8 359.0,135.0 355.0,132.2 351.6,129.0 350.8,126.0 350.0,121.5 350.2,116.5 352.0,113.2 355.2,110.6 356.0,106.5 356.4,102.4Z"/>
<path class="st" fill="#2F7DC1" d="M371.9,157.7 398.4,155.9 399.4,160.0 400.8,164.0 401.8,165.5 404.4,197.4 405.0,201.5 405.4,205.5 403.6,209.0 402.6,213.0 401.4,217.6 399.6,221.0 398.6,224.5 396.4,227.4 393.6,228.4 390.6,229.7 388.6,227.0 387.0,224.5 385.0,220.0 382.5,216.0 379.6,211.5 378.4,207.6 376.0,204.0 373.0,200.5 370.4,197.5 367.6,193.5 366.4,190.0 365.8,186.4 367.4,183.5 368.8,180.0 368.4,175.0 369.4,172.0 373.0,170.8 375.4,168.5 376.6,165.5 374.6,161.0Z"/>
<path class="st" fill="#C6DAF1" d="M401.8,165.5 404.5,166.6 408.4,164.9 427.4,163.9 431.1,198.4 429.0,200.6 427.6,203.6 425.6,206.6 423.0,210.0 420.4,211.4 417.6,212.4 415.0,214.6 412.0,216.0 409.0,217.4 406.0,216.6 403.5,216.4 401.4,217.6 402.6,213.0 403.6,209.0 405.4,205.5 405.0,201.5 404.4,197.4Z"/>
<path class="st" fill="#0C4F9C" d="M372.2,103.8 375.6,101.6 378.8,99.4 381.8,96.8 384.7,94.2 387.0,91.6 389.2,89.8 391.4,89.6 392.8,90.4 391.0,93.0 389.2,95.8 391.0,97.4 393.5,98.6 396.4,100.2 399.4,101.6 402.4,101.0 405.3,100.0 409.7,98.6 414.0,97.2 417.8,98.0 419.0,100.0 420.0,101.6 422.6,101.4 425.0,101.0 426.0,103.0 426.8,104.8 431.0,105.4 429.0,107.4 424.4,107.6 422.0,108.4 420.0,109.0 417.6,107.6 415.6,106.8 413.0,107.6 411.0,108.0 408.6,109.4 406.8,110.6 405.0,112.4 403.6,113.4 401.6,112.6 400.4,114.4 399.4,116.2 397.4,119.6 395.4,116.0 394.6,113.8 392.0,112.6 389.0,110.8 386.2,110.4 382.5,108.8 378.8,107.4 375.5,105.8Z M408.4,164.9 409.6,161.0 411.4,156.0 412.0,151.0 411.4,146.0 410.0,141.0 408.6,136.6 408.4,132.0 409.4,128.0 410.8,124.0 412.4,120.6 414.6,118.4 415.4,121.6 416.4,118.0 416.2,114.6 417.8,112.0 420.2,110.2 422.6,110.6 425.0,111.0 428.0,112.4 430.6,114.2 432.6,116.4 434.4,118.6 435.2,122.0 435.6,126.0 435.0,129.4 433.4,132.6 431.6,136.0 432.4,138.4 434.8,137.2 436.6,134.0 438.6,131.6 441.0,130.6 443.0,132.0 444.6,135.0 446.0,139.0 447.2,143.4 446.4,147.0 445.0,150.0 443.4,153.2 442.4,157.0 440.4,161.6 427.4,163.9Z"/>
<path class="st" fill="#2F7DC1" d="M427.4,163.9 440.4,161.6 443.5,162.4 446.5,164.2 450.0,164.6 453.5,162.6 457.0,160.6 460.5,158.8 464.0,156.6 466.9,154.9 469.8,172.5 469.6,175.6 469.4,179.0 468.8,182.6 467.4,186.0 465.6,189.0 463.4,191.6 461.4,194.0 459.4,196.6 457.6,199.6 456.0,202.0 454.2,204.6 452.6,203.4 450.4,201.6 448.0,201.4 445.6,202.8 442.6,202.4 439.6,201.0 436.5,199.6 433.6,198.2 431.1,198.4Z"/>
<path class="st" fill="#6DAADF" d="M401.4,217.6 399.6,221.0 398.6,224.5 396.4,227.4 393.6,228.4 390.6,229.7 390.2,233.0 388.6,236.6 388.5,236.5 402.2,235.5 401.8,233.2 407.7,233.2 422.9,231.9 438.1,230.3 446.5,229.8 449.6,228.0 452.6,225.4 456.0,222.6 459.0,219.5 462.4,215.6 460.4,213.6 458.6,211.0 456.0,208.0 454.2,204.6 452.6,203.4 450.4,201.6 448.0,201.4 445.6,202.8 442.6,202.4 439.6,201.0 436.5,199.6 433.6,198.2 431.1,198.4 429.0,200.6 427.6,203.6 425.6,206.6 423.0,210.0 420.4,211.4 417.6,212.4 415.0,214.6 412.0,216.0 409.0,217.4 406.0,216.6 403.5,216.4Z"/>
<path class="st" fill="#6DAADF" d="M388.6,236.6 388.5,236.5 402.2,235.5 401.8,233.2 407.7,233.2 422.9,231.9 438.1,230.3 446.5,229.8 466.6,227.3 465.0,230.4 463.3,233.6 460.5,236.0 457.6,238.0 455.0,240.4 452.4,242.2 450.0,244.0 447.6,246.4 445.2,248.8 443.4,251.0 442.6,253.2 429.3,254.5 416.0,255.6 403.2,256.5 392.0,257.0 382.4,256.6 383.4,254.6 384.4,252.0 385.4,248.0 386.2,243.6 387.4,240.0Z"/>
<path class="st" fill="#C6DAF1" d="M382.4,256.6 392.0,257.0 403.2,256.5 402.0,291.1 405.0,317.6 401.0,318.6 398.0,319.4 395.6,320.2 393.6,319.2 391.6,316.5 390.6,313.0 389.4,309.1 370.6,309.6 371.0,306.5 372.6,303.5 374.6,300.0 376.0,296.0 375.6,291.5 374.0,287.0 372.4,283.7 373.4,280.0 374.0,276.0 375.0,272.0 377.0,268.0 379.0,263.6 380.4,260.0Z"/>
<path class="st" fill="#0C4F9C" d="M403.2,256.5 416.0,255.6 429.3,254.5 436.6,280.5 438.4,283.5 439.5,286.0 440.2,290.0 439.4,294.0 439.6,298.0 440.4,301.6 441.2,304.7 412.8,307.4 413.4,311.0 414.6,313.6 415.2,316.4 413.4,317.6 411.6,318.0 410.6,316.0 410.0,313.0 408.6,312.6 408.4,315.4 407.4,317.8 405.0,317.6 402.0,291.1Z"/>
<path class="st" fill="#2F7DC1" d="M429.3,254.5 442.6,253.2 453.8,253.0 456.4,255.6 459.6,258.6 462.4,261.4 465.0,265.0 467.6,268.4 470.4,271.4 473.4,274.6 476.4,278.0 479.0,281.0 481.6,283.6 484.4,286.2 483.6,290.0 482.8,294.0 482.2,298.0 481.6,301.4 481.0,304.2 479.0,304.6 477.0,304.4 475.6,306.4 474.6,309.2 473.4,307.4 472.4,305.4 458.0,307.0 443.2,308.3 441.2,304.7 440.4,301.6 439.6,298.0 439.4,294.0 440.2,290.0 439.5,286.0 438.4,283.5 436.6,280.5Z"/>
<path class="st" fill="#0C4F9C" d="M412.8,307.4 441.2,304.7 443.2,308.3 458.0,307.0 472.4,305.4 473.4,307.4 474.6,309.2 475.6,306.4 477.0,304.4 479.0,304.6 481.0,304.2 482.4,307.6 484.2,311.6 486.2,316.0 488.4,320.6 490.6,325.0 493.0,329.0 495.6,332.4 497.4,336.0 499.4,340.0 500.3,342.2 502.0,345.4 503.7,349.0 505.0,353.0 506.2,357.0 506.8,361.0 506.6,366.0 505.7,370.1 502.6,372.6 499.4,374.0 496.4,373.7 495.6,371.6 494.2,369.4 490.2,367.0 486.9,364.2 484.6,362.4 482.4,360.2 481.2,357.0 479.0,355.0 476.7,352.4 474.6,347.0 474.0,343.4 472.4,344.4 471.4,341.0 470.8,337.0 470.0,333.0 468.0,329.4 465.8,326.4 463.4,323.0 460.6,320.4 457.6,318.0 454.0,316.6 450.6,316.4 447.0,317.6 443.6,319.4 441.4,321.0 439.0,322.4 436.4,320.4 433.4,318.4 430.0,317.2 426.0,316.4 422.0,316.0 418.0,316.4 415.2,316.4 414.6,313.6 413.4,311.0Z"/>
<path class="st" fill="#6DAADF" d="M453.8,253.0 456.4,250.4 459.0,248.2 461.0,247.0 463.0,246.4 467.0,246.2 471.0,246.0 473.0,247.4 475.4,246.0 476.4,244.8 480.0,245.4 485.0,246.4 491.0,247.6 496.0,251.4 501.0,255.4 505.2,258.6 503.4,262.0 501.4,265.6 499.4,269.0 496.4,272.6 493.6,276.0 491.0,279.0 488.4,282.0 486.4,284.4 484.4,286.2 481.6,283.6 479.0,281.0 476.4,278.0 473.4,274.6 470.4,271.4 467.6,268.4 465.0,265.0 462.4,261.4 459.6,258.6 456.4,255.6Z"/>
<path class="st" fill="#2F7DC1" d="M466.6,227.3 486.2,224.9 505.7,221.6 525.6,218.4 528.4,221.0 530.0,224.0 531.6,228.0 532.3,231.4 531.5,233.7 528.4,236.0 525.0,238.4 523.4,240.6 524.2,244.6 521.0,245.4 518.0,247.4 515.2,249.6 513.4,251.6 511.9,253.6 511.0,256.0 510.4,257.9 507.8,258.5 505.2,258.6 501.0,255.4 496.0,251.4 491.0,247.6 485.0,246.4 480.0,245.4 476.4,244.8 475.4,246.0 473.0,247.4 471.0,246.0 467.0,246.2 463.0,246.4 461.0,247.0 459.0,248.2 456.4,250.4 453.8,253.0 442.6,253.2 443.4,251.0 445.2,248.8 447.6,246.4 450.0,244.0 452.4,242.2 455.0,240.4 457.6,238.0 460.5,236.0 463.3,233.6 465.0,230.4Z"/>
<path class="st" fill="#6DAADF" d="M498.4,185.0 500.7,187.0 503.5,188.4 506.5,190.2 507.6,192.4 509.6,194.0 512.0,194.6 513.8,196.4 516.4,197.6 518.6,199.6 517.6,202.0 519.4,203.6 518.6,206.0 520.6,207.6 520.0,210.0 522.0,211.4 522.6,213.6 524.2,215.6 525.6,218.4 505.7,221.6 486.2,224.9 466.6,227.3 446.5,229.8 449.6,228.0 452.6,225.4 456.0,222.6 459.0,219.5 462.4,215.6 465.4,217.4 468.0,217.6 470.6,216.6 474.5,215.2 478.0,213.5 479.6,210.5 480.9,207.6 482.0,204.6 483.0,201.8 485.0,200.4 486.8,199.4 488.6,196.6 490.4,193.7 492.2,191.2 494.0,189.0 496.2,187.2Z M523.6,199.6 527.6,198.0 526.4,202.0 525.0,206.0 523.8,209.6 522.8,210.8 522.8,206.0 523.2,202.6Z"/>
<path class="st" fill="#2F7DC1" d="M454.2,204.6 456.0,202.0 457.6,199.6 459.4,196.6 461.4,194.0 463.4,191.6 465.6,189.0 467.4,186.0 468.8,182.6 469.4,179.0 469.6,175.6 469.8,172.5 471.7,184.6 481.7,183.0 482.9,189.4 486.0,187.0 488.6,185.2 491.4,183.6 494.0,182.4 496.0,183.2 498.4,185.0 496.2,187.2 494.0,189.0 492.2,191.2 490.4,193.7 488.6,196.6 486.8,199.4 485.0,200.4 483.0,201.8 482.0,204.6 480.9,207.6 479.6,210.5 478.0,213.5 474.5,215.2 470.6,216.6 468.0,217.6 465.4,217.4 462.4,215.6 460.4,213.6 458.6,211.0 456.0,208.0Z"/>
<path class="st" fill="#6DAADF" d="M481.7,183.0 486.9,182.1 502.0,179.5 518.6,177.6 523.0,192.2 528.4,191.4 527.8,194.6 526.8,198.2 523.6,199.6 518.6,199.6 516.4,197.6 513.8,196.4 512.0,194.6 509.6,194.0 507.6,192.4 506.5,190.2 503.5,188.4 500.7,187.0 498.4,185.0 496.0,183.2 494.0,182.4 491.4,183.6 488.6,185.2 486.0,187.0 482.9,189.4Z"/>
<path class="st" fill="#6DAADF" d="M518.6,177.6 520.2,177.6 521.0,179.2 522.7,181.5 524.6,184.4 526.2,186.8 527.6,189.2 528.4,191.4 523.0,192.2Z"/>
<path class="st" fill="#2F7DC1" d="M466.9,154.9 473.4,150.0 473.9,153.6 494.4,150.0 514.7,146.1 516.6,148.4 518.6,150.0 520.4,151.0 522.4,153.0 521.2,155.4 520.2,158.6 521.6,161.6 524.0,165.4 526.2,169.0 524.6,172.0 521.8,175.0 520.4,177.2 518.6,177.6 502.0,179.5 486.9,182.1 471.7,184.6 469.8,172.5Z"/>
<path class="st" fill="#9DC3E9" d="M522.4,153.0 531.1,156.4 531.6,160.2 532.2,163.0 533.6,167.0 533.8,171.0 533.0,175.0 531.4,179.0 529.6,182.4 527.4,185.0 525.6,182.4 523.2,180.6 521.2,179.0 520.4,177.2 518.6,177.6 520.4,177.2 521.8,175.0 524.6,172.0 526.2,169.0 524.0,165.4 521.6,161.6 520.2,158.6 521.2,155.4Z"/>
<path class="st" fill="#C6DAF1" d="M473.4,150.0 476.4,146.0 479.6,141.0 478.0,136.4 482.0,134.8 486.0,133.6 490.8,133.2 495.0,131.6 499.6,128.8 501.0,124.4 500.0,119.8 502.6,114.6 505.6,110.0 508.6,106.8 511.8,106.0 523.6,103.2 524.4,107.0 525.7,111.5 527.0,116.0 528.7,120.3 529.8,125.0 531.0,129.6 531.4,132.3 531.6,141.8 532.6,148.0 534.4,152.0 533.2,153.4 534.4,154.6 533.0,157.4 531.6,160.2 531.1,156.4 522.4,153.0 520.4,151.0 518.6,150.0 516.6,148.4 514.7,146.1 494.4,150.0 473.9,153.6Z M531.8,161.6 535.0,158.8 539.0,156.2 543.0,153.6 546.0,151.6 545.6,153.0 548.0,151.6 550.0,150.8 546.6,153.8 542.0,157.0 537.4,159.8 533.4,162.6 531.8,163.2Z"/>
<path class="st" fill="#2F7DC1" d="M531.6,141.8 547.2,138.7 548.4,143.0 549.6,146.6 545.4,148.6 541.4,150.6 537.6,152.8 534.4,154.6 533.2,153.4 534.4,152.0 532.6,148.0Z"/>
<path class="st" fill="#6DAADF" d="M547.2,138.7 551.6,138.0 553.0,140.4 554.6,142.2 554.6,144.4 553.6,143.6 552.8,145.2 552.4,146.4 549.6,146.6 548.4,143.0Z"/>
<path class="st" fill="#2F7DC1" d="M531.4,132.3 538.3,130.6 549.4,128.7 549.4,126.4 551.4,125.4 553.4,125.4 555.6,127.4 555.0,130.0 556.4,132.6 557.6,134.4 559.0,135.4 560.2,137.4 562.0,138.2 563.6,137.4 564.0,135.8 563.0,134.8 561.6,134.0 563.2,133.5 565.0,135.0 565.8,137.6 564.8,139.8 562.6,141.2 560.0,142.8 557.6,144.2 556.0,143.8 554.6,144.4 554.6,142.2 553.0,140.4 551.6,138.0 547.2,138.7 531.6,141.8Z"/>
<path class="st" fill="#6DAADF" d="M523.6,103.2 539.7,99.4 539.6,104.0 538.4,107.6 537.0,110.4 537.6,114.0 537.6,117.4 537.0,121.0 537.0,124.4 537.6,127.6 538.3,130.6 531.4,132.3 531.0,129.6 529.8,125.0 528.7,120.3 527.0,116.0 525.7,111.5 524.4,107.0Z"/>
<path class="st" fill="#0C4F9C" d="M539.7,99.4 541.0,97.2 542.6,95.0 543.6,98.6 544.6,102.6 546.4,108.0 548.5,114.4 550.4,118.6 552.0,121.4 553.6,123.4 553.4,125.4 551.4,125.4 549.4,126.4 549.4,128.7 538.3,130.6 537.6,127.6 537.0,124.4 537.0,121.0 537.6,117.4 537.6,114.0 537.0,110.4 538.4,107.6 539.6,104.0Z"/>
<path class="st" fill="#C6DAF1" d="M542.6,95.0 544.0,92.0 544.0,87.0 544.8,82.6 545.6,78.0 546.4,73.6 547.2,69.4 548.2,66.0 549.4,62.8 551.5,63.5 553.0,65.0 554.8,63.4 556.6,62.0 558.4,61.6 560.3,61.8 561.8,62.4 563.0,63.5 563.8,66.4 564.7,69.4 566.2,72.4 567.6,75.3 569.0,79.0 570.6,82.6 573.5,85.6 576.5,87.8 580.0,90.4 578.0,94.4 576.0,96.2 574.0,98.0 572.4,100.6 570.6,101.8 569.0,103.0 567.6,105.0 566.4,103.4 564.7,105.0 563.4,107.6 561.8,110.0 560.0,112.4 558.0,114.4 556.2,117.4 554.6,120.4 553.6,123.4 552.0,121.4 550.4,118.6 548.5,114.4 546.4,108.0 544.6,102.6 543.6,98.6Z"/>
<path class="st" fill="#C6DAF1" d="M146.3,316.6 149.0,318.0 151.5,318.8 154.5,319.0 157.4,319.6 160.0,320.6 163.2,321.0 166.0,321.2 169.1,321.8 172.0,320.6 175.0,320.0 177.4,320.0 179.4,320.6 180.6,323.2 189.7,366.0 192.0,366.2 194.1,366.6 197.0,368.4 200.0,370.3 202.0,368.6 204.0,366.6 207.0,368.4 210.0,370.4 214.0,374.2 218.0,378.0 222.0,381.0 225.6,383.6 227.0,388.0 224.4,390.0 221.0,388.6 222.4,386.0 219.0,384.6 216.4,385.6 214.0,383.0 215.0,380.6 211.6,379.0 209.4,380.0 207.0,376.4 204.4,375.4 203.0,373.0 200.4,372.8 197.0,370.6 193.4,369.0 189.7,367.6 186.8,368.4 182.4,367.6 178.0,366.2 175.0,365.2 174.4,367.4 173.5,369.0 171.6,370.2 170.4,371.4 169.6,369.0 169.1,366.6 167.6,365.6 166.2,365.2 164.6,366.4 163.2,367.6 162.0,370.0 160.6,372.6 158.6,374.4 156.0,376.4 153.4,381.6 148.4,388.0 141.4,394.0 134.4,400.0 127.4,405.0 125.6,403.4 132.6,398.0 139.6,392.0 145.6,386.0 149.8,382.0 148.0,379.4 144.4,377.4 140.4,379.0 137.4,380.6 135.0,381.0 134.0,378.4 133.0,376.0 130.4,372.4 127.2,372.6 125.0,375.0 123.4,374.0 121.4,372.0 124.4,370.6 127.2,368.2 125.0,365.2 125.6,362.6 126.5,360.6 127.6,358.6 128.7,357.0 130.0,355.6 131.6,354.8 134.0,354.0 136.0,353.4 137.6,351.4 138.5,349.6 137.0,348.0 135.3,347.5 132.4,347.0 129.4,346.8 126.6,346.6 124.3,346.0 122.4,344.6 121.3,343.0 123.0,341.6 125.0,340.8 127.4,339.8 129.4,339.4 131.6,339.6 133.8,339.4 136.4,340.4 139.0,340.1 137.4,338.6 135.3,338.0 133.4,336.4 131.6,335.0 129.6,333.6 127.9,332.0 126.6,330.0 126.5,328.4 129.0,327.4 131.6,326.2 133.4,324.2 135.3,322.5 138.4,321.0 141.2,319.6 143.6,318.0Z M154.0,386.0 156.4,383.4 159.0,382.0 161.4,382.6 162.0,384.4 160.4,387.0 159.0,389.0 156.6,389.4 155.0,388.6Z M110.3,353.0 112.4,352.2 114.6,353.0 116.6,353.2 118.4,354.6 117.0,355.6 114.6,355.0 112.4,354.6Z M105.2,367.2 106.6,368.0 107.2,369.6 106.0,368.8Z M112.0,410.4 115.0,408.4 118.0,407.0 121.0,405.0 120.6,406.6 118.0,408.6 115.0,410.4 112.6,411.4Z M92.0,413.4 94.6,412.6 97.0,412.0 96.4,413.6 94.0,414.6 92.4,414.8Z"/>
<path class="st" fill="#C6DAF1" d="M23.6,320.0 24.6,318.0 26.6,317.4 28.6,318.0 29.4,320.0 28.4,322.0 26.4,322.6 24.4,322.0Z M41.4,325.6 43.4,324.2 45.0,325.4 46.6,327.4 48.0,329.4 47.0,331.0 44.6,330.4 42.6,328.4Z M52.0,331.6 55.0,330.8 58.6,331.0 58.0,332.6 55.0,332.8 52.6,332.8Z M54.8,335.4 56.4,335.2 57.2,337.0 56.2,338.0 55.0,337.0Z M59.0,335.4 61.0,334.6 62.4,336.0 65.0,335.6 67.0,337.4 66.4,339.6 63.6,340.0 61.0,338.4 59.4,337.4Z M68.0,344.6 69.6,344.4 72.0,346.4 75.0,348.6 78.0,351.0 80.4,354.0 79.0,356.6 76.0,359.0 73.0,361.6 70.4,363.6 68.4,362.0 67.6,358.6 66.4,355.0 66.8,351.4 67.6,348.0Z"/>
<path d="M161.1,157.5 L163.8,156.8 164.5,159.5 165.8,162.5 168.5,165.9 170.2,167.3 167.2,168.3 166.5,170.3 164.5,169.3 163.5,165.9 162.1,162.9 160.8,160.5 160.8,158.5Z" fill="#fff" stroke="#181818" stroke-width=".7"/><path d="M166.2,160.8 L170.2,161.6" stroke="#181818" stroke-width=".9" fill="none"/>
<rect x="493.6" y="348.6" width="5.4" height="5.6" rx="2" ry="2" transform="rotate(-20 496.3 351.4)" fill="#fff" stroke="#222" stroke-width=".5"/>
<path d="M391.6,321.8 L393.6,320.4 396.4,320.2 397.2,321.6 395.4,323.6 393.4,325 392,324Z" fill="#9DC3E9" stroke="#222" stroke-width=".5"/><path d="M384.2,319.8 L385.8,318 388.4,317.6 390,318.6 389.8,320.6 387.6,322 385.2,321.8Z" fill="#fff" stroke="#222" stroke-width=".5"/>
<path d="M516.8,179.2 L514.8,181.6 513.8,184.6 514.6,188 515.8,191.6 517.4,195 519.2,198.2 520.4,201.6 521,205.6 521.6,209.6 522.4,212.4 523.2,211.2 522.6,207.4 522.2,203.4 521.4,199.8 520.2,196.8 518.6,193.6 517,190.2 515.8,186.6 515.4,183.6 517.4,180Z" fill="#fff" stroke="#262626" stroke-width=".45"/>
<path d="M513.6,185.4 L511.6,187 M515.4,190 L513,191.6 M517.2,195.2 L514.6,195.8 513.6,197.4 M518.8,199.4 L516,200.4 514.8,202.4 M519.8,204 L517.4,205.6 M520.6,208.6 L518.2,210.4 M518.4,183.4 L519.4,186.6 M519.6,189.4 L520.8,192.4" fill="none" stroke="#262626" stroke-width=".7"/>
<path d="M520,224.4 L523,224 526.6,222.4 528.6,224.6 530.4,228.4 530.8,231.6 530,233 527.4,235 524,236.6 521.6,236.8 520.6,235.6 523.6,234.4 526.4,232.4 527.8,229.6 527.4,227.4 525,226.6 522.4,226.4 520,226Z" fill="#fff" stroke="#2a2a2a" stroke-width=".5"/>
<path d="M517,224.4 L520,225.2 M517.2,233.8 L521,235.8 M518,240 L521,240.4 523.4,241.2" fill="none" stroke="#2a2a2a" stroke-width=".9"/>
<path d="M334.2,329 L335.8,328.2 337,329.6 335.8,331.6 334.2,331Z" fill="#fff" stroke="#222" stroke-width=".5"/>
<path d="M565.2,105 L565.8,100.2 568.4,104.6 569.2,99.8" fill="none" stroke="#151515" stroke-width=".9"/>
<path d="M99.2,46 L100,48.6 99,51 99.8,53.6 98.4,56 99,59 97.8,61.6 98,64.6" fill="none" stroke="#101010" stroke-width="1.7" stroke-linejoin="round"/>
<path d="M59.6,185.6 L61.4,187.4 60.6,190 61.6,192.6" fill="none" stroke="#151515" stroke-width="1.1"/>
<path d="M68,241.6 L70,242.6 72,242.2 74,243.2 M81.4,252 L82.6,253.4 M83.4,256 L83.8,258 82.8,259.8" fill="none" stroke="#111" stroke-width="1.1" stroke-linecap="round"/>
<path d="M379,85.4 L381.4,83.8 383.6,82.2 386,80.6" fill="none" stroke="#111" stroke-width="1.3" stroke-linecap="round"/>
<path d="M489.6,383.2 L492,381.4 495.2,380.4 493.6,382.2Z" fill="#0b2f63" stroke="#0a0a0a" stroke-width=".6" stroke-linejoin="round"/>
<path d="M204,368.4 L207.6,372 210.4,375 M208,369.6 L212,373.6 215.4,377.4 218.6,380.6 M212,377 L215,381 218,384 M219,379.4 L222.4,383.4 224.4,386.6 M216,382.4 L219.6,386 222.6,388.6 M206,371.6 L209,375.6" fill="none" stroke="#2a2a2a" stroke-width=".7" stroke-dasharray="2.2 1"/>
<path d="M413.4,110.4 L414.2,112.8 M415,115.4 L415.8,118.8 415.2,122.4 M417,113 L417.4,116.4" fill="none" stroke="#111" stroke-width=".9" stroke-linecap="round"/>
<path d="M560.6,144.6 L562,144 M563.6,143.6 L564,143.8 M566,143.6 L567,143.4" fill="none" stroke="#111" stroke-width="1.2" stroke-linecap="round"/>
<ellipse cx="551.2" cy="229.5" rx="5.8" ry="5" fill="#0C4F9C" stroke="#0a2f60" stroke-width=".8"/>
<line x1="533.75" y1="78.75" x2="540.75" y2="96.25" stroke="#111" stroke-width="1"/>
<line x1="517.5" y1="95" x2="528.75" y2="107" stroke="#111" stroke-width="1"/>
<line x1="583.75" y1="119.5" x2="557.5" y2="134.5" stroke="#111" stroke-width="1"/>
<line x1="574.25" y1="148.75" x2="553.75" y2="145.5" stroke="#111" stroke-width="1"/>
<line x1="560" y1="157.5" x2="548.75" y2="148.75" stroke="#111" stroke-width="1"/>
<line x1="543" y1="175" x2="533.75" y2="175" stroke="#111" stroke-width="1"/>
<line x1="540.5" y1="189.25" x2="529.5" y2="189.25" stroke="#111" stroke-width="1"/>
<line x1="538" y1="202.5" x2="525" y2="196.25" stroke="#111" stroke-width="1"/>
<line x1="541.25" y1="217" x2="507.5" y2="187.5" stroke="#111" stroke-width="1"/>
<g font-size="9.6" text-anchor="middle">
<text transform="translate(114.6,65.44999999999999) scale(.98,1)" fill="#fff" stroke="#fff">WA</text><text transform="translate(114.6,78.05) scale(1.02,1)" fill="#fff" stroke="#fff">3.1</text>
<text transform="translate(101.4,110.25) scale(.98,1)" fill="#fff" stroke="#fff">OR</text><text transform="translate(101.4,123.05) scale(1.02,1)" fill="#fff" stroke="#fff">2.7</text>
<text transform="translate(153.6,122.64999999999999) scale(.98,1)" fill="#fff" stroke="#fff">ID</text><text transform="translate(153.6,135.45) scale(1.02,1)" fill="#fff" stroke="#fff">2.7</text>
<text transform="translate(202.6,85.44999999999999) scale(.98,1)" fill="#fff" stroke="#fff">MT</text><text transform="translate(202.6,98.25) scale(1.02,1)" fill="#fff" stroke="#fff">1.8</text>
<text transform="translate(82.5,204.65) scale(.98,1)" fill="#fff" stroke="#fff">CA</text><text transform="translate(82.5,217.65) scale(1.02,1)" fill="#fff" stroke="#fff">2.5</text>
<text transform="translate(117.75,171.85) scale(.98,1)" fill="#fff" stroke="#fff">NV</text><text transform="translate(117.75,184.85) scale(1.02,1)" fill="#fff" stroke="#fff">1.9</text>
<text transform="translate(167,187.85) scale(.98,1)" fill="#fff" stroke="#fff">UT</text><text transform="translate(167,200.85) scale(1.02,1)" fill="#fff" stroke="#fff">3.2</text>
<text transform="translate(214.6,141.85) scale(.98,1)" fill="#000" stroke="#000">WY</text><text transform="translate(214.6,154.85) scale(1.02,1)" fill="#000" stroke="#000">0.2</text>
<text transform="translate(227,198.1) scale(.98,1)" fill="#000" stroke="#000">CO</text><text transform="translate(227,211.1) scale(1.02,1)" fill="#000" stroke="#000">1.1</text>
<text transform="translate(155,250.6) scale(.98,1)" fill="#000" stroke="#000">AZ</text><text transform="translate(155,263.6) scale(1.02,1)" fill="#000" stroke="#000">1.0</text>
<text transform="translate(217.5,256.1) scale(.98,1)" fill="#000" stroke="#000">NM</text><text transform="translate(217.5,269.1) scale(1.02,1)" fill="#000" stroke="#000">1.3</text>
<text transform="translate(283.25,88.6) scale(.98,1)" fill="#000" stroke="#000">ND</text><text transform="translate(283.25,101.6) scale(1.02,1)" fill="#000" stroke="#000">1.4</text>
<text transform="translate(282,129.35) scale(.98,1)" fill="#000" stroke="#000">SD</text><text transform="translate(282,142.35) scale(1.02,1)" fill="#000" stroke="#000">1.1</text>
<text transform="translate(283.5,168.75) scale(.98,1)" fill="#000" stroke="#000">NE</text><text transform="translate(283.5,181.65) scale(1.02,1)" fill="#000" stroke="#000">1.1</text>
<text transform="translate(296.5,208.6) scale(.98,1)" fill="#000" stroke="#000">KS</text><text transform="translate(296.5,221.6) scale(1.02,1)" fill="#000" stroke="#000">0.1</text>
<text transform="translate(303.5,246.85) scale(.98,1)" fill="#000" stroke="#000">OK</text><text transform="translate(303.5,259.85) scale(1.02,1)" fill="#000" stroke="#000">1.3</text>
<text transform="translate(290.75,298.6) scale(.98,1)" fill="#fff" stroke="#fff">TX</text><text transform="translate(290.75,311.6) scale(1.02,1)" fill="#fff" stroke="#fff">3.4</text>
<text transform="translate(334.5,107.14999999999999) scale(.98,1)" fill="#000" stroke="#000">MN</text><text transform="translate(334.5,120.05) scale(1.02,1)" fill="#000" stroke="#000">1.7</text>
<text transform="translate(345,160.35) scale(.98,1)" fill="#000" stroke="#000">IA</text><text transform="translate(345,173.35) scale(1.02,1)" fill="#000" stroke="#000">0.4</text>
<text transform="translate(355,209.04999999999998) scale(.98,1)" fill="#000" stroke="#000">MO</text><text transform="translate(355,222.15) scale(1.02,1)" fill="#000" stroke="#000">1.5</text>
<text transform="translate(357.5,256.6) scale(.98,1)" fill="#000" stroke="#000">AR</text><text transform="translate(357.5,269.6) scale(1.02,1)" fill="#000" stroke="#000">0.5</text>
<text transform="translate(359.25,306.85) scale(.98,1)" fill="#000" stroke="#000">LA</text><text transform="translate(359.25,319.85) scale(1.02,1)" fill="#000" stroke="#000">1.1</text>
<text transform="translate(380,127.35) scale(.98,1)" fill="#000" stroke="#000">WI</text><text transform="translate(380,140.35) scale(1.02,1)" fill="#000" stroke="#000">0.9</text>
<text transform="translate(387.5,184.1) scale(.98,1)" fill="#fff" stroke="#fff">IL</text><text transform="translate(387.5,197.35) scale(1.02,1)" fill="#fff" stroke="#fff">1.7</text>
<text transform="translate(415.75,184.1) scale(.98,1)" fill="#000" stroke="#000">IN</text><text transform="translate(415.75,197.35) scale(1.02,1)" fill="#000" stroke="#000">0.8</text>
<text transform="translate(424.25,141.85) scale(.98,1)" fill="#fff" stroke="#fff">MI</text><text transform="translate(424.25,154.85) scale(1.02,1)" fill="#fff" stroke="#fff">2.1</text>
<text transform="translate(447.5,179.1) scale(.98,1)" fill="#fff" stroke="#fff">OH</text><text transform="translate(447.5,192.04999999999998) scale(1.02,1)" fill="#fff" stroke="#fff">1.9</text>
<text transform="translate(470,198.1) scale(.98,1)" fill="#fff" stroke="#fff">WV</text><text transform="translate(470,210.75) scale(1.02,1)" fill="#fff" stroke="#fff">1.9</text>
<text transform="translate(495.75,161.85) scale(.98,1)" fill="#fff" stroke="#fff">PA</text><text transform="translate(495.75,174.85) scale(1.02,1)" fill="#fff" stroke="#fff">1.7</text>
<text transform="translate(512,128.6) scale(.98,1)" fill="#000" stroke="#000">NY</text><text transform="translate(512,141.85) scale(1.02,1)" fill="#000" stroke="#000">0.4</text>
<text transform="translate(498,203.1) scale(.98,1)" fill="#000" stroke="#000">VA</text><text transform="translate(498,216.1) scale(1.02,1)" fill="#000" stroke="#000">1.5</text>
<text transform="translate(494.25,235.35) scale(.98,1)" fill="#fff" stroke="#fff">NC</text><text transform="translate(494.25,248.04999999999998) scale(1.02,1)" fill="#fff" stroke="#fff">1.7</text>
<text transform="translate(482.5,259.85) scale(.98,1)" fill="#000" stroke="#000">SC</text><text transform="translate(482.5,272.85) scale(1.02,1)" fill="#000" stroke="#000">1.4</text>
<text transform="translate(455.75,278.6) scale(.98,1)" fill="#fff" stroke="#fff">GA</text><text transform="translate(455.75,291.35) scale(1.02,1)" fill="#fff" stroke="#fff">1.8</text>
<text transform="translate(419.5,281.1) scale(.98,1)" fill="#fff" stroke="#fff">AL</text><text transform="translate(419.5,294.1) scale(1.02,1)" fill="#fff" stroke="#fff">2.2</text>
<text transform="translate(390,281.1) scale(.98,1)" fill="#000" stroke="#000">MS</text><text transform="translate(390,294.1) scale(1.02,1)" fill="#000" stroke="#000">0.1</text>
<text transform="translate(484,331.45000000000005) scale(.98,1)" fill="#fff" stroke="#fff">FL</text><text transform="translate(484,344.25) scale(1.02,1)" fill="#fff" stroke="#fff">3.1</text>
<text transform="translate(557.5,84.35) scale(.98,1)" fill="#000" stroke="#000">ME</text><text transform="translate(557.5,97.35) scale(1.02,1)" fill="#000" stroke="#000">0.7</text>
<text transform="translate(39,346.25) scale(.98,1)" fill="#000" stroke="#000">HI</text><text transform="translate(39,359.45000000000005) scale(1.02,1)" fill="#000" stroke="#000">0.9</text>
<text transform="translate(158,341.45000000000005) scale(.98,1)" fill="#000" stroke="#000">AK</text><text transform="translate(158,354.25) scale(1.02,1)" fill="#000" stroke="#000">0.5</text>
<text transform="translate(527.5,64.85) scale(.98,1)" fill="#000" stroke="#000">NH</text><text transform="translate(527.5,78.1) scale(1.02,1)" fill="#000" stroke="#000">2.4</text>
<text transform="translate(509.5,86.1) scale(.98,1)" fill="#000" stroke="#000">VT</text><text transform="translate(509.5,99.35) scale(1.02,1)" fill="#000" stroke="#000">1.5</text>
<text transform="translate(593.25,114.35) scale(.98,1)" fill="#000" stroke="#000">MA</text><text transform="translate(593.25,127.85) scale(1.02,1)" fill="#000" stroke="#000">2.0</text>
</g><g font-size="9.6">
<text transform="translate(428.1,224.4) scale(.955,1)" fill="#000" stroke="#000" text-anchor="middle">KY 1.5</text>
<text transform="translate(418.25,245.4) scale(.955,1)" fill="#000" stroke="#000" text-anchor="middle">TN 1.5</text>
<text transform="translate(575.2,149.9) scale(.955,1)" fill="#000" stroke="#000" text-anchor="start">RI 1.6</text>
<text transform="translate(561.25,162.9) scale(.955,1)" fill="#000" stroke="#000" text-anchor="start">CT 2.0</text>
<text transform="translate(544.5,178.65) scale(.955,1)" fill="#000" stroke="#000" text-anchor="start">NJ 1.3</text>
<text transform="translate(541.25,193.65) scale(.955,1)" fill="#000" stroke="#000" text-anchor="start">DE 1.6</text>
<text transform="translate(539.5,206.9) scale(.955,1)" fill="#000" stroke="#000" text-anchor="start">MD 1.5</text>
<text transform="translate(542,221.9) scale(.955,1)" fill="#000" stroke="#000" text-anchor="start">DC 2.7</text>
</g>
<g font-size="9.6" stroke="#000">
<rect x="548" y="329.7" width="14" height="11.4" fill="#0C4F9C" stroke="#444" stroke-width=".6"/><text transform="translate(567.2,339.2) scale(1.1,1)" fill="#000">2.1 to 3.4</text>
<rect x="548" y="345" width="14" height="11.4" fill="#2F7DC1" stroke="#444" stroke-width=".6"/><text transform="translate(567.2,354.5) scale(1.1,1)" fill="#000">1.7 to 2.1</text>
<rect x="548" y="360" width="14" height="11.4" fill="#6DAADF" stroke="#444" stroke-width=".6"/><text transform="translate(567.2,369.5) scale(1.1,1)" fill="#000">1.4 to 1.7</text>
<rect x="548" y="375.2" width="14" height="11.4" fill="#9DC3E9" stroke="#444" stroke-width=".6"/><text transform="translate(567.2,384.7) scale(1.1,1)" fill="#000">0.9 to 1.4</text>
<rect x="548" y="390" width="14" height="11.4" fill="#C6DAF1" stroke="#444" stroke-width=".6"/><text transform="translate(567.2,399.5) scale(1.1,1)" fill="#000">0.1 to 0.9</text>
</g>
</svg>
<div id="src">U.S. Bureau of Economic Analysis</div>
</body></html>
